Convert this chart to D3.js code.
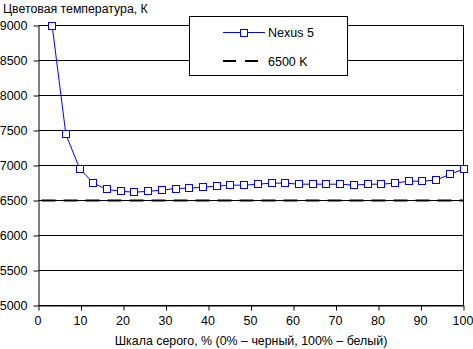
<!DOCTYPE html>
<html>
<head>
<meta charset="utf-8">
<script src="https://cdn.jsdelivr.net/npm/d3@7"></script>
<style>
  html, body { margin: 0; padding: 0; background: #fff; }
  svg { display: block; font-family: "Liberation Sans", Arial, sans-serif; }
</style>
</head>
<body>
<svg id="chart" width="473" height="349"></svg>
<script>
// Grey-scale steps (percent) and measured colour temperature, K
const grayLevels = d3.range(1, 32).map(i => 100 * i / 31);
const nexus5 = [8990, 7443, 6957, 6747, 6659, 6631, 6619, 6631, 6648, 6671,
                6676, 6690, 6705, 6719, 6719, 6733, 6748, 6748, 6733, 6733,
                6733, 6733, 6719, 6733, 6733, 6748, 6776, 6776, 6790, 6876, 6947];
const referenceK = 6500;
const xTicks = [0, 10, 20, 30, 40, 50, 60, 70, 80, 90, 100];
const yTicks = [5000, 5500, 6000, 6500, 7000, 7500, 8000, 8500, 9000];
const seriesNames = ["Nexus 5", "6500 K"];
const yTitle = "Цветовая температура, К";
const xTitle = "Шкала серого, % (0% – черный, 100% – белый)";

const svg = d3.select("#chart");
const x = d3.scaleLinear().domain([0, 100]).range([38.5, 463.5]);
const y = d3.scaleLinear().domain([5000, 9000]).range([305.5, 25.5]);

// horizontal grid
svg.append("g").selectAll("line").data(yTicks).join("line")
  .attr("x1", x(0)).attr("x2", x(100))
  .attr("y1", d => y(d)).attr("y2", d => y(d))
  .attr("stroke", "#000").attr("stroke-width", 1);

// right border
svg.append("line").attr("x1", x(100)).attr("x2", x(100))
  .attr("y1", y(9000)).attr("y2", y(5000)).attr("stroke", "#000");

// axes
const yAxis = svg.append("g").attr("transform", `translate(${x(0)},0)`)
  .call(d3.axisLeft(y).tickValues(yTicks).tickFormat(d3.format("d")).tickSizeInner(5).tickSizeOuter(0).tickPadding(6));
const xAxis = svg.append("g").attr("transform", `translate(0,${y(5000)})`)
  .call(d3.axisBottom(x).tickValues(xTicks).tickSizeInner(5).tickSizeOuter(0).tickPadding(6));
[xAxis, yAxis].forEach(a => {
  a.select(".domain").attr("stroke", "#000");
  a.selectAll(".tick line").attr("stroke", "#000");
  a.selectAll("text").attr("fill", "#000").style("font-size", "12.5px")
    .style("font-family", "Liberation Sans, Arial, sans-serif");
});
xAxis.selectAll("text").attr("dx", "-1");

// 6500 K reference line
svg.append("line")
  .attr("x1", x(0)).attr("x2", x(100))
  .attr("y1", y(referenceK)).attr("y2", y(referenceK))
  .attr("stroke", "#000").attr("stroke-width", 2)
  .attr("stroke-dasharray", "14,8").attr("stroke-dashoffset", -3);

// Nexus 5 series
const pts = grayLevels.map((g, i) => [g, nexus5[i]]);
svg.append("path").datum(pts)
  .attr("fill", "none").attr("stroke", "#0000ff").attr("stroke-width", 1)
  .attr("d", d3.line().x(d => x(d[0])).y(d => y(d[1])));
svg.append("g").selectAll("rect").data(pts).join("rect")
  .attr("x", d => Math.round(x(d[0])) - 3.5).attr("y", d => Math.round(y(d[1])) - 3.5)
  .attr("width", 7).attr("height", 7)
  .attr("fill", "#fff").attr("stroke", "#0000ff").attr("stroke-width", 1);

// legend
const lg = svg.append("g");
lg.append("rect").attr("x", 189.5).attr("y", 16.5).attr("width", 158).attr("height", 59)
  .attr("fill", "#fff").attr("stroke", "#000");
lg.append("line").attr("x1", 223).attr("x2", 265).attr("y1", 32.5).attr("y2", 32.5)
  .attr("stroke", "#0000ff");
lg.append("rect").attr("x", 240.5).attr("y", 29.5).attr("width", 7).attr("height", 7)
  .attr("fill", "#fff").attr("stroke", "#0000ff");
lg.append("line").attr("x1", 223).attr("x2", 260).attr("y1", 61).attr("y2", 61)
  .attr("stroke", "#000").attr("stroke-width", 2).attr("stroke-dasharray", "13,9");
lg.selectAll("text").data(seriesNames).join("text")
  .attr("x", 268).attr("y", (d, i) => i === 0 ? 37 : 65.5)
  .style("font-size", "12.5px").text(d => d);

// titles
svg.append("text").attr("x", 3).attr("y", 13).style("font-size", "12.3px").text(yTitle);
svg.append("text").attr("x", (x(0) + x(100)) / 2).attr("y", 345)
  .attr("text-anchor", "middle").style("font-size", "12.4px").text(xTitle);
</script>
</body>
</html>
